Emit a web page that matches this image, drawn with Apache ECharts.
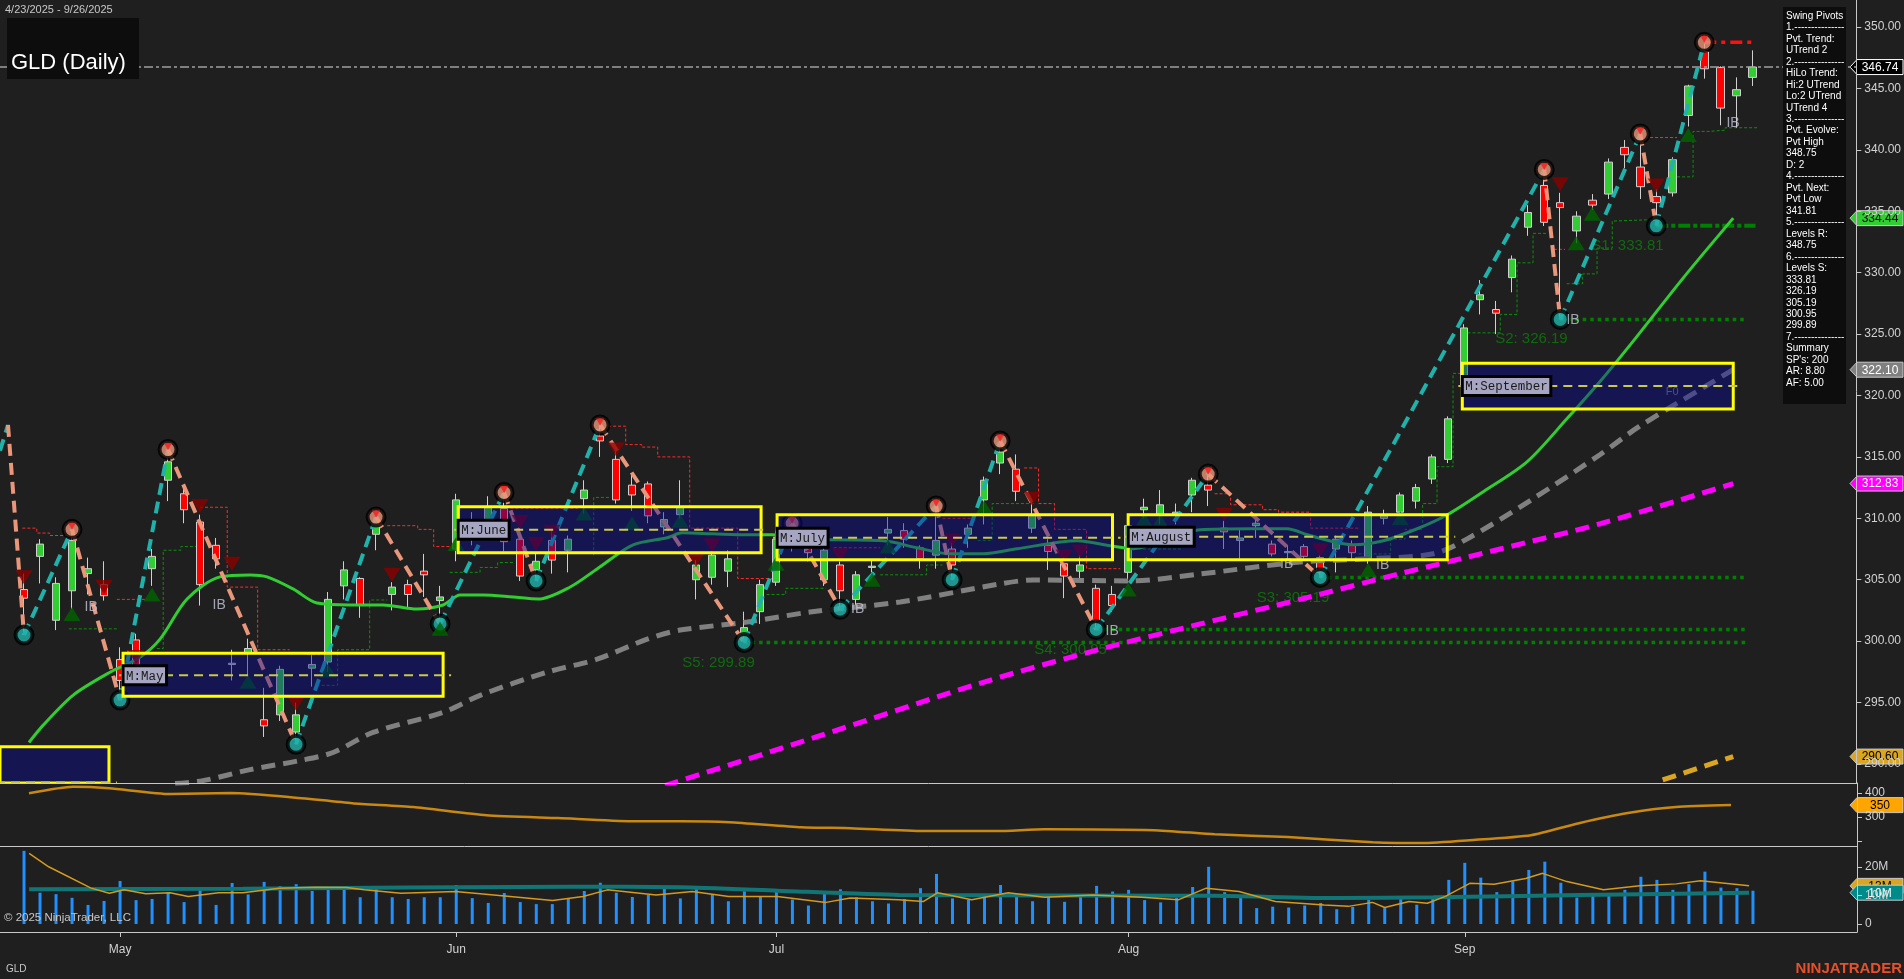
<!DOCTYPE html>
<html><head><meta charset="utf-8">
<script src="https://cdn.jsdelivr.net/npm/echarts@6/dist/echarts.min.js"></script>
<style>html,body{margin:0;padding:0;background:#1f1f1f;overflow:hidden}#c{width:1904px;height:979px}</style>
</head><body><div id="c"></div><script>
// ---------- DATA ----------
const dates = ['4/22','4/23','4/24','4/25','4/28','4/29','4/30','5/1','5/2','5/5','5/6','5/7','5/8','5/9','5/12','5/13','5/14','5/15','5/16','5/19','5/20','5/21','5/22','5/23','5/27','5/28','5/29','5/30','6/2','6/3','6/4','6/5','6/6','6/9','6/10','6/11','6/12','6/13','6/16','6/17','6/18','6/20','6/23','6/24','6/25','6/26','6/27','6/30','7/1','7/2','7/3','7/7','7/8','7/9','7/10','7/11','7/14','7/15','7/16','7/17','7/18','7/21','7/22','7/23','7/24','7/25','7/28','7/29','7/30','7/31','8/1','8/4','8/5','8/6','8/7','8/8','8/11','8/12','8/13','8/14','8/15','8/18','8/19','8/20','8/21','8/22','8/25','8/26','8/27','8/28','8/29','9/2','9/3','9/4','9/5','9/8','9/9','9/10','9/11','9/12','9/15','9/16','9/17','9/18','9/19','9/22','9/23','9/24','9/25','9/26'];
const padCats = ['p1','p2','p3','p4','p5','p6'];
const monthTicks = {'5/1':'May','6/2':'Jun','7/1':'Jul','8/1':'Aug','9/2':'Sep'};

const opens = [null,304.2,306.9,301.7,304.1,305.5,304.6,298.5,300.1,305.9,
313.1,312.0,309.7,307.8,298.1,299.0,293.6,294.0,292.6,297.8,
298.3,304.5,305.1,308.7,303.8,304.6,305.7,303.3,307.5,309.0,
309.4,310.8,308.3,305.8,308.2,307.4,311.6,316.7,314.8,312.7,
312.8,309.3,310.3,305.0,305.2,305.7,300.6,302.4,304.8,308.5,
308.5,305.0,306.2,303.4,306.0,308.8,309.0,307.6,307.0,307.5,
308.7,311.5,314.5,314.0,309.2,307.8,306.3,305.7,304.3,303.8,
305.6,310.7,310.3,310.3,311.9,312.7,309.2,308.2,309.4,307.9,
307.2,307.7,306.8,307.5,307.8,306.7,310.0,310.5,311.4,313.2,
314.8,320.8,327.8,327.0,329.6,333.7,337.1,335.7,333.4,335.9,
336.4,340.2,338.6,336.2,336.5,342.8,348.0,346.7,344.4,345.9];
const highs = [null,305.5,308.3,305.2,309.1,306.8,306.5,299.5,300.6,307.5,
315.6,312.4,310.3,308.4,299.3,300.2,296.2,298.0,295.0,298.9,
304.0,306.5,305.2,310.1,304.8,305.0,307.1,304.5,312.0,310.5,
311.8,312.1,309.2,307.2,309.0,308.6,313.1,317.6,316.0,313.6,
313.0,310.5,313.1,306.6,307.3,307.4,302.4,305.0,309.0,309.6,
309.2,307.6,306.5,305.7,306.6,310.1,309.6,307.8,311.0,308.0,
309.5,313.4,316.3,315.2,311.5,308.3,306.8,307.0,304.6,304.5,
309.8,311.6,312.3,311.2,313.3,313.6,309.8,309.1,310.3,308.2,
307.8,307.9,307.0,308.6,308.2,311.0,310.7,312.1,312.8,315.2,
318.3,325.8,329.4,327.7,331.4,335.5,338.4,336.5,335.0,336.4,
339.3,340.8,341.3,336.8,339.4,345.3,348.75,346.8,345.9,348.1];
const lows = [null,300.5,304.7,300.9,302.6,303.8,303.3,295.2,297.5,304.5,
311.4,309.6,302.9,305.9,296.8,297.2,292.2,293.5,291.6,296.3,
297.5,303.4,301.9,307.4,302.5,302.6,303.6,301.4,306.5,307.8,
308.5,307.3,304.9,304.9,305.5,305.6,310.4,315.0,311.2,310.6,
309.6,308.7,310.0,303.4,304.6,304.4,299.89,301.4,304.5,307.3,
306.5,304.5,302.6,302.8,305.6,307.8,307.6,305.9,305.9,305.0,
307.6,309.5,313.6,311.4,308.8,305.8,303.5,305.0,300.95,302.4,
304.8,310.0,309.5,309.5,310.5,311.0,307.5,306.7,308.4,306.9,
306.7,306.7,305.19,305.6,306.6,306.3,309.5,310.2,310.8,312.8,
314.5,320.0,326.6,325.0,328.4,333.0,333.8,326.19,332.4,335.1,
336.0,338.5,336.0,333.81,336.2,341.9,345.8,342.0,341.8,345.2];
const closes = [null,303.5,307.9,304.7,308.2,305.9,303.7,296.8,297.9,306.9,
314.6,310.7,304.6,306.7,298.2,299.4,293.1,297.7,294.0,298.1,
303.4,305.8,302.9,309.6,304.4,303.8,305.4,303.6,311.5,309.6,
310.9,308.1,305.3,306.5,306.6,308.3,312.3,316.3,311.5,311.9,
310.2,309.9,310.9,306.2,307.0,306.7,301.1,304.6,308.3,309.0,
307.2,307.4,304.1,305.4,306.1,309.1,308.3,306.7,308.2,306.2,
309.2,313.1,315.4,312.2,310.2,307.3,305.3,306.2,301.7,302.9,
309.4,310.9,311.1,310.5,313.1,312.3,308.9,308.4,309.6,307.1,
307.3,306.9,305.6,308.3,307.2,310.5,310.2,311.9,312.5,315.0,
318.1,325.5,328.2,326.7,331.1,334.9,334.1,335.3,334.6,335.5,
339.0,339.6,337.0,335.7,339.2,345.2,346.6,343.4,344.9,346.74];
// volume in millions
const volumes = [null,25.7,11.0,10.5,9.2,6.7,8.1,15.1,8.4,8.8,
11.2,7.7,11.9,6.7,14.4,10.4,14.8,13.3,14.0,11.6,
12.5,13.3,9.4,13.3,9.4,8.8,9.4,9.4,13.7,9.1,
7.4,10.9,7.7,7.0,7.0,9.1,11.6,14.5,11.0,9.5,
10.2,12.4,9.0,12.8,10.5,8.0,11.5,9.8,12.0,8.6,
6.5,10.8,12.2,9.4,8.0,7.2,8.8,12.6,17.6,9.0,
8.5,10.5,13.7,9.8,8.0,9.6,7.8,10.2,13.4,11.4,
12.0,8.4,7.6,9.2,13.0,20.1,11.2,9.6,5.6,6.1,
5.8,6.5,7.4,5.2,6.0,8.5,5.6,9.2,6.8,9.4,
15.5,21.5,16.3,11.2,15.0,19.0,21.9,14.5,9.3,10.8,
10.5,12.0,16.6,15.5,12.0,14.0,18.4,12.8,12.6,11.7];

// moving averages: [bar index, price]
const greenMA = [[1.31,291.75],[2.19,293.14],[4.06,295.59],[6.38,297.47],[8.25,298.69],[9.5,300.16],[11.19,303.43],[13.25,305.23],[15.13,305.39],[16.19,305.23],[17.81,304.25],[19.31,303.1],[21.38,302.94],[23.44,302.94],[25.56,302.61],[27.19,302.94],[28.25,303.76],[29.69,303.76],[31.56,303.59],[33.13,303.43],[35.13,304.41],[36.81,305.88],[39.06,307.84],[41.19,308.42],[42.13,308.82],[44.06,308.74],[46.19,308.66],[47.81,308.66],[49.5,308.25],[51.56,308.25],[54.69,308.17],[56.81,307.6],[58.88,307.11],[60.94,307.11],[63.06,307.52],[66.81,308.17],[68.88,307.76],[70.31,307.52],[72.44,308.33],[74.5,309.07],[77.63,309.15],[79.94,309.15],[81.19,308.66],[82.81,308.09],[84.06,307.84],[85.94,308.17],[88.06,309.15],[89.94,310.29],[92.19,312.17],[94.94,314.62],[97.44,318.14],[99.5,321.16],[101.56,324.43],[104.69,329.58],[107.81,334.44]];
const grayMA = [[10.44,288.4],[12.19,288.64],[15.13,289.54],[18.25,290.28],[20.31,290.93],[22.81,292.57],[27.19,294.2],[29.5,295.59],[33.69,297.47],[36.81,298.53],[39.94,300.16],[42,300.9],[46.19,301.55],[50.13,302.37],[55.75,303.19],[62,304.66],[64.06,304.98],[70.13,304.9],[74.5,305.47],[80.75,306.45],[84.94,306.7],[89.06,307.11],[91.19,308.33],[95.31,311.6],[99.5,315.2],[101.94,317.48],[105.75,320.5],[107.81,322.1]];
const magentaMA = [[41.06,288.24],[50.5,292.2],[60.94,296.65],[68.25,299.35],[74.5,301.4],[80.75,303.4],[87,305.5],[93.25,307.5],[99.5,309.56],[107.81,312.83]];
const goldMA = [[103.4,288.7],[107.81,290.6]];

// swing pivots
const pivotIdx = [0,1,4,7,10,18,23,27,31,33,37,46,49,52,58,59,62,68,75,82,96,97,102,103,106];
const pivotPrice = [317.6,300.5,309.1,295.2,315.6,291.6,310.1,301.4,312.1,304.9,317.6,299.89,309.6,302.6,311.0,305.0,316.3,300.95,313.6,305.19,338.4,326.19,341.3,333.81,348.75];
const leadIn = [-0.5,315.5];

// support / resistance levels
const levelNames = ['S5','S4','S3','S2','S1'];
const levelValues = [299.89,300.95,305.19,326.19,333.81];
const levelStart = [46,68,82,97,103];
const levelEnd = [108.6,108.6,108.6,108.6,109.2];
const levelLabelPos = [[42.1,298.2],[64.1,299.3],[78,303.5],[92.9,324.6],[98.9,332.2]];
const resistance = [106,109.2,348.75];
const lastPrice = 346.74;

// monthly boxes
const boxLabels = ['','M:May','M:June','M:July','M:August','M:September'];
const boxStart = [-0.5,7.19,28.13,48.06,70,90.88];
const boxEnd = [6.31,27.19,47.06,69.02,89.94,107.81];
const boxTop = [291.4,299.02,310.95,310.29,310.29,322.63];
const boxBottom = [288.45,295.51,307.19,306.62,306.62,318.9];
const boxMid = [288.5,297.22,309.07,308.42,308.5,320.78];

// signal triangles
const downTri = [[1,305.2],[6,304.4],[8,298.7],[12,311],[14,306.3],[18,294.9],[24,305.4],[32,309.7],[33,307.9],[34,308.9],[38,315.6],[43,306.6],[44,307.8],[52,307],[59,308.2],[64,311.6],[66,306.9],[67,307.3],[76,310.3],[82,307.4],[97,337.2],[103,337.1]];
const upTri = [[4,302.2],[9,303.8],[15,296.7],[20,297.6],[27,301],[28,307.9],[36,310.4],[39,309.6],[42,309.8],[48,306.3],[54,305],[55,307.7],[61,310.9],[70,304.2],[71,309.9],[72,309.8],[85,305.8],[87,310],[98,332.4],[99,334.8],[105,341.2]];
const ibPos = [[5.2,302.8],[13.2,302.9],[53.1,302.6],[69,300.8],[79.9,306.3],[85.9,306.2],[97.8,326.1],[107.8,342.2]];

// trailing step lines
const redSteps = [
 [[0.9,309.2],[1.8,309.2],[1.8,308.8],[2.6,308.8],[2.6,308.6],[3.9,308.6]],
 [[6.8,303.4],[8.7,303.4]],
 [[12,310.9],[13.7,310.9],[13.7,304.4],[15.6,304.4],[15.6,299.3],[17.6,299.3]],
 [[18.7,298.9],[19.5,298.9]],
 [[23.7,309.4],[25.6,309.4],[25.6,309.1],[26.6,309.1],[26.6,307.7],[27.8,307.7]],
 [[31.4,310.8],[35.6,310.8]],
 [[37.5,317.5],[38.6,317.5],[38.6,316],[39.6,316],[39.6,315.8],[40.6,315.8],[40.6,315],[42.6,315],[42.6,309.2],[45.6,309.2],[45.6,305.1],[47.8,305.1]],
 [[51.6,307.6],[54.5,307.6]],
 [[58.4,310],[60.3,310]],
 [[63.5,314.1],[64.4,314.1],[64.4,311.2],[65.4,311.2],[65.4,309.1],[67.4,309.1],[67.4,305.9],[69.5,305.9]],
 [[75.4,312],[76.4,312],[76.4,311.1],[78.4,311.1],[78.4,310.7],[79.4,310.7],[79.4,310.5],[81.4,310.5],[81.4,309.2],[84.5,309.2]],
 [[96.6,331.9],[97.3,331.9]],
 [[102.3,341],[104.3,341]]
];
const greenSteps = [
 [[3.8,301],[6.8,301]],
 [[9.3,299.4],[9.7,299.4],[9.7,307.4],[10.8,307.4],[10.8,307.7],[12,307.7]],
 [[19.6,296.4],[20.6,296.4],[20.6,299.3],[22.6,299.3],[22.6,303.35],[23.7,303.35]],
 [[27.6,305.6],[29.5,305.6],[29.5,306],[30.6,306],[30.6,306.4],[31.6,306.4]],
 [[36.6,307],[36.6,311.7],[37.6,311.7]],
 [[47.4,303.8],[48.6,303.8],[48.6,304.3],[51.1,304.3]],
 [[54.5,305.4],[57.4,305.4],[57.4,306.2],[58.4,306.2]],
 [[60.6,308.2],[61.5,308.2],[61.5,311.2],[64.1,311.2]],
 [[70.3,307.5],[73.4,307.5]],
 [[84.4,307.1],[86.4,307.1],[86.4,308.3],[87.3,308.3],[87.3,309.1],[88.4,309.1],[88.4,311.2],[89.3,311.2],[89.3,314.2],[90.3,314.2],[90.3,321.8],[91.2,321.8],[91.2,325.1],[93.25,325.1],[93.25,326.6],[94.3,326.6],[94.3,330.8],[95.3,330.8],[95.3,333.2],[96.2,333.2]],
 [[97.4,329.1],[98.4,329.1],[98.4,329.9],[99.3,329.9],[99.3,332],[100.25,332],[100.25,334.2],[102.4,334.3]],
 [[104.3,337.8],[105.3,337.8],[105.3,341.5],[106.3,341.5],[106.3,341.6],[107.3,341.6],[107.3,341.8],[109.3,341.8]]
];

// lower indicator panel
const indicator = [[1.31,399],[4.06,426],[6.31,420],[10.13,396],[13.94,400],[17.69,383],[21.5,358],[25.31,342],[29.88,308],[34.38,296],[38.94,283],[42,283],[45.06,279],[49.56,258],[52.63,254],[57.19,242],[61.75,242],[64.75,250],[71.56,246],[75.38,229],[79.94,217],[85.25,196],[88.31,192],[91.31,204],[95.13,225],[98.13,275],[101.19,317],[104.19,342],[107.63,350]];
const volAvgFast = [[1.32,24.8],[2.54,20.1],[5.19,12.6],[6.33,10.8],[7.24,12.0],[8.6,10.6],[10.12,11.0],[11.26,9.7],[13.16,11.0],[14.68,11.0],[16.95,12.6],[19.23,12.9],[21.13,12.8],[22.26,12.0],[24.54,10.8],[27.95,11.4],[31.37,9.7],[34.02,8.3],[35.92,9.7],[37.44,12.0],[40.48,10.2],[42.75,11.4],[45.02,9.7],[48.06,9.7],[51.1,7.6],[52.61,9.1],[55.65,8.5],[57.17,7.9],[58.08,11.0],[60.2,8.5],[62.48,11.0],[64.75,9.4],[67.79,10.2],[70.83,9.4],[73.1,8.5],[74.85,12.6],[76.9,11.4],[79.17,7.9],[82.21,6.7],[83.72,6.2],[85.24,7.6],[86.0,5.8],[87.52,7.9],[88.66,7.3],[89.79,9.7],[91.31,14.3],[92.83,14.0],[94.8,16.0],[95.86,17.8],[97.38,14.9],[99.66,12.0],[101.93,13.4],[104.21,14.1],[105.73,15.2],[108.76,13.4]];
const volAvgSlow = [[1.32,12.2],[14.68,12.4],[35.17,13.1],[41.99,12.9],[48.06,11.7],[55.65,10.2],[75.38,9.9],[82.97,9.1],[89.03,9.4],[98.14,10.2],[108.76,11.0]];

const pivotPanelLines = ['Swing Pivots','1.---------------','Pvt. Trend:','UTrend 2','2.---------------','HiLo Trend:','Hi:2 UTrend','Lo:2 UTrend','UTrend 4','3.---------------','Pvt. Evolve:','Pvt High','348.75','D: 2','4.---------------','Pvt. Next:','Pvt Low','341.81','5.---------------','Levels R:','348.75','6.---------------','Levels S:','333.81','326.19','305.19','300.95','299.89','7.---------------','Summary',"SP's: 200",'AR: 8.80','AF: 5.00'];

// ---------- CHART ----------
const FONT = '"Liberation Sans", Arial, sans-serif';
const cats = dates.concat(padCats);
const XMIN = -0.5, XMAX = cats.length - 0.5;
const CLEAR = 'rgba(0,0,0,0)';
const series = [];
const L = (o) => Object.assign({type:'line', xAxisIndex:1, yAxisIndex:0, symbol:'none', silent:true}, o);

redSteps.forEach(p => series.push(L({data:p, z:1, lineStyle:{color:'#ff2a2a', width:1, type:[3,2]}})));
greenSteps.forEach(p => series.push(L({data:p, z:1, lineStyle:{color:'#0d8f0d', width:1, type:[3,2]}})));

const candleRows = [];
opens.forEach((o,i)=>{ if (o != null) candleRows.push([i, o, closes[i], lows[i], highs[i]]); });
series.push({type:'candlestick', xAxisIndex:0, yAxisIndex:0, barWidth:8, z:2, silent:true,
  encode:{x:0, y:[1,2,3,4]}, data: candleRows,
  itemStyle:{color:'#32cd32', color0:'#ff0000', borderColor:'#d0d0d0', borderColor0:'#d0d0d0', borderWidth:1}});

// level lines
series.push(L({data:[[XMIN,lastPrice],[XMAX,lastPrice]], z:3, lineStyle:{color:'#a0a0a0', width:1.5, type:[9,3,3,3]}}));
levelValues.forEach((v,k)=> series.push(L({data:[[levelStart[k],v],[levelEnd[k],v]], z:3,
  lineStyle:{color:'#008000', width: k===4?4:3.5, type: k===4?[12,3,4,3]:[3.5,4]}})));
series.push(L({data:[[resistance[0],resistance[2]],[resistance[1],resistance[2]]], z:3, lineStyle:{color:'#ff1010', width:3.5, type:[12,5,4,5]}}));

// S labels
series.push({type:'scatter', xAxisIndex:1, yAxisIndex:0, symbolSize:1, z:3, silent:true, itemStyle:{color:CLEAR},
  data: levelLabelPos.map((p,k)=>({value:p, label:{show:true, position:'right', distance:0, formatter: levelNames[k]+': '+levelValues[k].toFixed(2)}})),
  label:{color:'#0b7d0b', fontSize:15, fontFamily:FONT}});

// moving averages
series.push(L({data:greenMA, smooth:0.3, z:4, lineStyle:{color:'#32cd32', width:3}}));
series.push(L({data:grayMA, smooth:0.3, z:4, lineStyle:{color:'#808080', width:5, type:[14,8]}}));
series.push(L({data:magentaMA, smooth:0.3, z:4, lineStyle:{color:'#ff00ff', width:5, type:[14,8]}}));
series.push(L({data:goldMA, z:4, lineStyle:{color:'#daa520', width:5, type:[14,8]}}));

// swing lines
series.push(L({data:[leadIn,[pivotIdx[0],pivotPrice[0]]], z:5, lineStyle:{color:'#20b2aa', width:4, type:[12,7]}}));
for (let k=0;k<pivotIdx.length-1;k++){
  const up = pivotPrice[k+1] > pivotPrice[k];
  series.push(L({data:[[pivotIdx[k],pivotPrice[k]],[pivotIdx[k+1],pivotPrice[k+1]]], z:5,
    lineStyle:{color: up ? '#20b2aa' : '#e9967a', width:4, type:[12,7]}}));
}
const highPts = [], lowPts = [];
for (let k=1;k<pivotIdx.length;k++){
  (k%2===0 ? highPts : lowPts).push([pivotIdx[k], pivotPrice[k]]);
}
series.push({type:'scatter', xAxisIndex:1, yAxisIndex:0, z:6, silent:true, symbolSize:17, data:highPts,
  itemStyle:{color:'#e9967a', borderColor:'#000', borderWidth:4}});
series.push({type:'scatter', xAxisIndex:1, yAxisIndex:0, z:6, silent:true, symbol:'triangle', symbolRotate:180, symbolSize:[8,7], symbolOffset:[0,-3], data:highPts,
  itemStyle:{color:'#ff1a1a'}});
series.push({type:'scatter', xAxisIndex:1, yAxisIndex:0, z:6, silent:true, symbolSize:17, data:lowPts,
  itemStyle:{color:'#20b2aa', borderColor:'#000', borderWidth:4}});

// triangles
series.push({type:'scatter', xAxisIndex:1, yAxisIndex:0, z:6, silent:true, symbol:'triangle', symbolRotate:180, symbolSize:[17,14], data:downTri, itemStyle:{color:'#8b0000'}});
series.push({type:'scatter', xAxisIndex:1, yAxisIndex:0, z:6, silent:true, symbol:'triangle', symbolSize:[17,14], data:upTri, itemStyle:{color:'#006400'}});

// IB + F0 labels
series.push({type:'scatter', xAxisIndex:1, yAxisIndex:0, symbolSize:1, z:6, silent:true, itemStyle:{color:CLEAR},
  data: ibPos.map(p=>({value:p, label:{show:true, position:'inside', formatter:'IB'}})).concat([{value:[104,320.3], label:{show:true, position:'inside', formatter:'F0', color:'#9a9a9a', fontSize:11}}]),
  label:{color:'#c4c4d8', fontSize:14, fontFamily:FONT}});

// monthly boxes
series.push({type:'custom', xAxisIndex:1, yAxisIndex:0, z:8, silent:true, clip:true,
  encode:{x:[0,1], y:[2,3,4]},
  data: boxStart.map((s,k)=>[s, boxEnd[k], boxTop[k], boxBottom[k], boxMid[k]]),
  renderItem: function(params, api){
    const p0 = api.coord([api.value(0), api.value(2)]);
    const p1 = api.coord([api.value(1), api.value(3)]);
    const ym = api.coord([api.value(0), api.value(4)])[1];
    const label = boxLabels[params.dataIndex];
    const ch = [
      {type:'rect', shape:{x:p0[0], y:p0[1], width:p1[0]-p0[0], height:p1[1]-p0[1]},
        style:{fill:'rgba(8,8,150,0.42)', stroke:'#ffff00', lineWidth:3}},
      {type:'line', shape:{x1:p0[0]-4, y1:ym, x2:p1[0]+8, y2:ym}, style:{stroke:'#c9c94a', lineWidth:2, lineDash:[9,6]}}
    ];
    if (label){
      const w = label.length*7.5+6;
      ch.push({type:'rect', shape:{x:p0[0], y:ym-9.5, width:w, height:19}, style:{fill:'#a6a6c2', stroke:'#000', lineWidth:3}});
      ch.push({type:'text', x:p0[0]+3, y:ym+1, style:{text:label, fill:'#1a1a1a', font:'12.5px "Liberation Mono", monospace', verticalAlign:'middle', align:'left'}});
    }
    return {type:'group', children:ch};
  }});

// indicator panel
series.push({type:'line', xAxisIndex:2, yAxisIndex:1, symbol:'none', silent:true, smooth:0.2, data:indicator, lineStyle:{color:'#c98812', width:2.5}});

// volume
series.push({type:'bar', xAxisIndex:3, yAxisIndex:2, barWidth:3, silent:true, data: volumes.map(v=> v==null ? '-' : v), itemStyle:{color:'#1e90ff'}});
series.push({type:'line', xAxisIndex:4, yAxisIndex:2, symbol:'none', silent:true, z:3, smooth:0.2, data:volAvgSlow, lineStyle:{color:'#127575', width:4}});
series.push({type:'line', xAxisIndex:4, yAxisIndex:2, symbol:'none', silent:true, z:4, data:volAvgFast, lineStyle:{color:'#d29a1e', width:1.5}});

const axisTxt = {color:'#d2d2d2', fontSize:12, fontFamily:FONT};
const yLine = {show:true, onZero:false, lineStyle:{color:'#c8c8c8'}};
const option = {
  backgroundColor:'#1f1f1f',
  animation:false,
  grid:[
    {left:0, top:0, width:1857, height:783},
    {left:0, top:783, width:1857, height:63},
    {left:0, top:846, width:1857, height:86}
  ],
  xAxis:[
    {type:'category', gridIndex:0, data:cats, show:false, axisLine:{onZero:false}},
    {type:'value', gridIndex:0, min:XMIN, max:XMAX, show:false, axisLine:{onZero:false}},
    {type:'value', gridIndex:1, min:XMIN, max:XMAX, show:false, axisLine:{onZero:false}},
    {type:'category', gridIndex:2, data:cats,
      axisLine:{show:true, onZero:false, lineStyle:{color:'#c8c8c8', width:1}},
      axisTick:{show:true, alignWithLabel:true, length:5, lineStyle:{color:'#c8c8c8'}, interval:(i,v)=> !!monthTicks[v]},
      axisLabel:Object.assign({interval:(i,v)=> !!monthTicks[v], formatter:(v)=> monthTicks[v]||'', margin:12}, axisTxt),
      splitLine:{show:false}},
    {type:'value', gridIndex:2, min:XMIN, max:XMAX, show:false, axisLine:{onZero:false}}
  ],
  yAxis:[
    {type:'value', gridIndex:0, position:'right', min:288.45, max:352.2, splitNumber:13, scale:true,
      axisLine:yLine, axisTick:{show:true, length:5, lineStyle:{color:'#c8c8c8'}},
      splitLine:{show:false},
      axisLabel:Object.assign({formatter:(v)=>v.toFixed(2), showMinLabel:false, showMaxLabel:false, margin:8}, axisTxt)},
    {type:'value', gridIndex:1, position:'right', min:180, max:442, splitNumber:3,
      axisLine:yLine, axisTick:{show:true, length:5, lineStyle:{color:'#c8c8c8'}},
      splitLine:{show:false},
      axisLabel:Object.assign({formatter:(v)=> v===200 ? '' : String(v), showMinLabel:false, showMaxLabel:false, margin:8}, axisTxt)},
    {type:'value', gridIndex:2, position:'right', min:-2.8, max:27.4, splitNumber:3,
      axisLine:yLine, axisTick:{show:true, length:5, lineStyle:{color:'#c8c8c8'}},
      splitLine:{show:false},
      axisLabel:Object.assign({formatter:(v)=> v===0 ? '0' : v+'M', showMinLabel:false, showMaxLabel:false, margin:8}, axisTxt)}
  ],
  series: series
};

const chart = echarts.init(document.getElementById('c'));
chart.setOption(option);

// ---------- annotations ----------
const yp = (v, idx) => chart.convertToPixel({yAxisIndex:idx}, v);
function badge(y, text, bg, fg, stroke){
  return {type:'group', z:200, children:[
    {type:'polygon', shape:{points:[[1850,y],[1857,y-7.5],[1903,y-7.5],[1903,y+7.5],[1857,y+7.5]]}, style:{fill:bg, stroke:stroke||'#c8c8c8', lineWidth:1}},
    {type:'text', x:1880, y:y+0.5, style:{text:text, fill:fg, font:'12px '+FONT, align:'center', verticalAlign:'middle'}}
  ]};
}
const g = [];
g.push({type:'line', shape:{x1:0, y1:783.5, x2:1857, y2:783.5}, style:{stroke:'#c8c8c8', lineWidth:1}, z:50});
g.push({type:'line', shape:{x1:0, y1:846.5, x2:1857, y2:846.5}, style:{stroke:'#c8c8c8', lineWidth:1}, z:50});
g.push({type:'text', left:5, top:4, style:{text:'4/23/2025 - 9/26/2025', fill:'#c8c8c8', font:'11px '+FONT}, z:60});
g.push({type:'rect', shape:{x:7, y:18, width:132, height:61}, style:{fill:'#0d0d0d'}, z:60});
g.push({type:'text', x:11, y:63, style:{text:'GLD (Daily)', fill:'#ffffff', font:'22px '+FONT, verticalAlign:'middle'}, z:61});
g.push({type:'rect', shape:{x:1783, y:7, width:63, height:397}, style:{fill:'#0d0d0d'}, z:60});
pivotPanelLines.forEach((t,k)=> g.push({type:'text', x:1786, y:16+k*11.47, style:{text:t, fill:'#ffffff', font:'10px '+FONT, verticalAlign:'middle'}, z:61}));
g.push({type:'text', x:4, y:918, style:{text:'\u00a9 2025 NinjaTrader, LLC', fill:'#c8c8c8', font:'11.5px '+FONT, verticalAlign:'middle'}, z:60});
g.push({type:'text', x:6, y:969, style:{text:'GLD', fill:'#c8c8c8', font:'10px '+FONT, verticalAlign:'middle'}, z:60});
g.push({type:'text', x:1902, y:969, style:{text:'NINJATRADER', fill:'#e8502a', font:'bold 15px '+FONT, align:'right', verticalAlign:'middle'}, z:60});
g.push(badge(yp(lastPrice,0), lastPrice.toFixed(2), '#000000', '#ffffff', '#ffffff'));
g.push(badge(yp(greenMA[greenMA.length-1][1],0), greenMA[greenMA.length-1][1].toFixed(2), '#32cd32', '#000000'));
g.push(badge(yp(grayMA[grayMA.length-1][1],0), grayMA[grayMA.length-1][1].toFixed(2), '#808080', '#ffffff'));
g.push(badge(yp(magentaMA[magentaMA.length-1][1],0), magentaMA[magentaMA.length-1][1].toFixed(2), '#ff00ff', '#ffffff'));
g.push(badge(yp(goldMA[goldMA.length-1][1],0), goldMA[goldMA.length-1][1].toFixed(2), '#daa520', '#000000'));
g.push(badge(yp(indicator[indicator.length-1][1],1), String(indicator[indicator.length-1][1]), '#ffa500', '#000000'));
g.push(badge(yp(volAvgFast[volAvgFast.length-1][1],2), Math.round(volAvgFast[volAvgFast.length-1][1])+'M', '#daa520', '#000000'));
g.push(badge(yp(volAvgSlow[volAvgSlow.length-1][1],2), Math.round(volAvgSlow[volAvgSlow.length-1][1]-1)+'M', '#008b8b', '#ffffff'));
chart.setOption({graphic:g});
</script></body></html>
